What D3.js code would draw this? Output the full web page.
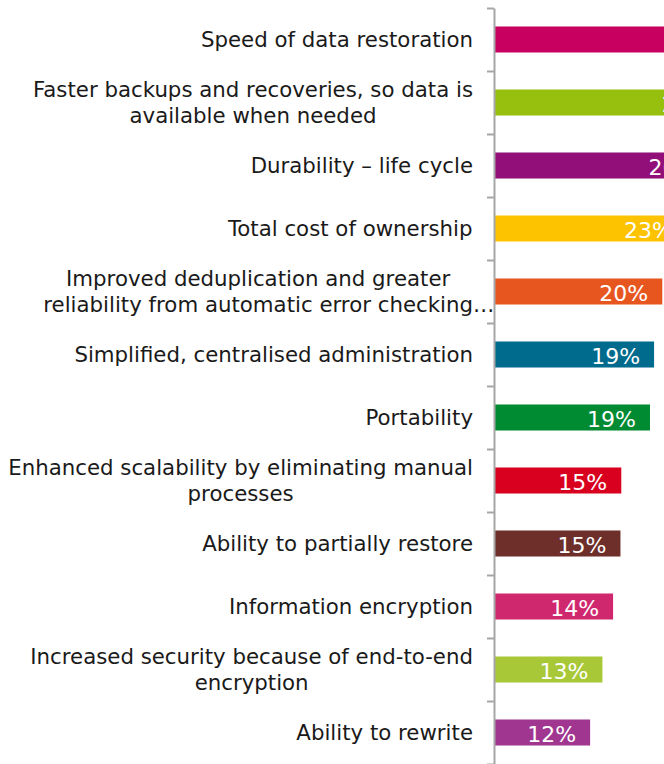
<!DOCTYPE html>
<html>
<head>
<meta charset="utf-8">
<script src="https://cdn.jsdelivr.net/npm/d3@7"></script>
<style>
  body { margin: 0; background: #fff; overflow: hidden; }
  text { font-family: "DejaVu Sans", Verdana, sans-serif; }
</style>
</head>
<body>
<svg></svg>
<script>
// categories, one entry per line of the label
var categories = [
  ["Speed of data restoration"],
  ["Faster backups and recoveries, so data is", "available when needed"],
  ["Durability \u2013 life cycle"],
  ["Total cost of ownership"],
  ["Improved deduplication and greater", "reliability from automatic error checking\u2026"],
  ["Simplified, centralised administration"],
  ["Portability"],
  ["Enhanced scalability by eliminating manual", "processes"],
  ["Ability to partially restore"],
  ["Information encryption"],
  ["Increased security because of end-to-end", "encryption"],
  ["Ability to rewrite"]
];
var values = [0.31, 0.28, 0.264, 0.234, 0.204, 0.194, 0.189, 0.154, 0.153, 0.144, 0.131, 0.116];
var colors = ["#c8005f", "#97c00e", "#920f7a", "#fdc300", "#e8561f", "#006b8c",
              "#008a32", "#d8001e", "#6e2e2a", "#d0286e", "#a8c838", "#a0368f"];

var width = 664, height = 764;
var axisX = 494;

var svg = d3.select("svg").attr("width", width).attr("height", height);

var keys = categories.map(function (d, i) { return "c" + i; });

var y = d3.scaleBand()
    .domain(keys)
    .range([8, 764])
    .paddingInner(0.587)
    .paddingOuter(0.2935);

var x = d3.scaleLinear()
    .domain([0, 1])
    .range([axisX + 1, axisX + 1 + 820]);

// bars
svg.selectAll("rect.bar")
    .data(values)
    .enter().append("rect")
    .attr("class", "bar")
    .attr("x", x(0))
    .attr("y", function (d, i) { return y(keys[i]); })
    .attr("width", function (d) { return x(d) - x(0); })
    .attr("height", y.bandwidth())
    .attr("fill", function (d, i) { return colors[i]; });

// value labels inside the bar end
var fmt = d3.format(".0%");
svg.selectAll("text.val")
    .data(values)
    .enter().append("text")
    .attr("class", "val")
    .attr("x", function (d) { return x(d) - 14; })
    .attr("y", function (d, i) { return y(keys[i]) + y.bandwidth() / 2 + 2; })
    .attr("dy", "0.36em")
    .attr("text-anchor", "end")
    .attr("fill", "#fff")
    .style("font-size", "22px")
    .text(function (d) { return fmt(d); });

// axis with ticks between the categories
var tickScale = d3.scaleLinear().domain([0, categories.length]).range([8, 764]);
var axis = svg.append("g")
    .attr("transform", "translate(" + axisX + ",0)")
    .call(d3.axisLeft(tickScale)
        .tickValues(d3.range(categories.length + 1))
        .tickSize(7)
        .tickSizeOuter(0)
        .tickFormat(""));
axis.select(".domain").attr("stroke", "#a6a6a6").attr("stroke-width", 2);
axis.selectAll(".tick line").attr("stroke", "#a6a6a6").attr("stroke-width", 2);

// category labels, block right aligned, lines centred
// a trailing ellipsis hangs past the block like in the original
var lineH = 26;
categories.forEach(function (lines, i) {
    var cy = y(keys[i]) + y.bandwidth() / 2;
    var g = svg.append("g");
    var t = g.append("text")
        .attr("text-anchor", "middle")
        .attr("fill", "#1a1a1a")
        .style("font-size", "21.3px");
    var tails = [];
    lines.forEach(function (s, j) {
        var ly = cy + (j - (lines.length - 1) / 2) * lineH;
        var hang = s.slice(-1) === "\u2026";
        var ts = t.append("tspan")
            .attr("x", 0)
            .attr("y", ly)
            .attr("dy", "0.36em")
            .text(hang ? s.slice(0, -1) : s);
        if (hang) tails.push({ node: ts, y: ly });
    });
    var w = t.node().getBBox().width;
    tails.forEach(function (tl) {
        g.append("text")
            .attr("x", tl.node.node().getComputedTextLength() / 2)
            .attr("y", tl.y)
            .attr("dy", "0.36em")
            .attr("fill", "#1a1a1a")
            .style("font-size", "21.3px")
            .text("\u2026");
    });
    g.attr("transform", "translate(" + (473 - w / 2) + ",0)");
});
</script>
</body>
</html>
